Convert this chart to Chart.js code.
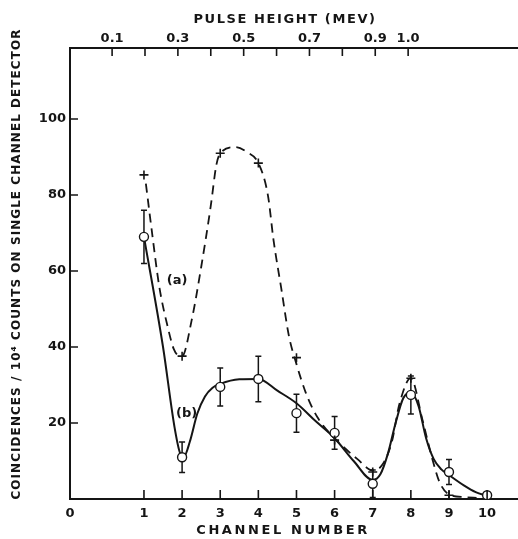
<!DOCTYPE html>
<html>
<head>
<meta charset="utf-8">
<script src="https://cdn.jsdelivr.net/npm/chart.js@4.4.0/dist/chart.umd.min.js"></script>
<style>
  html, body { margin: 0; padding: 0; background: #fff; }
</style>
</head>
<body>
<canvas id="chart" width="518" height="539"></canvas>
<script>
// measured points, curve (b): circles with error bars
const channels = [1, 2, 3, 4, 5, 6, 7, 8, 9, 10];
const countsB = [69, 11, 29.5, 31.6, 22.6, 17.4, 4, 27.4, 7.1, 1];
const errorsB = [7, 4, 5, 6, 5, 4.3, 3.6, 5, 3.3, 0];

// measured points, curve (a): crosses
const channelsA = [1, 2, 3, 4, 5, 6, 7, 8, 9];
const countsA = [85.3, 37.6, 91, 88.4, 37.2, 15.5, 7.1, 31.8, 1];

// hand drawn fit through (a), dashed
const fitAx = [1.05, 1.2, 1.4, 1.63, 1.78, 1.9, 2, 2.25, 2.5, 2.75, 2.9, 3, 3.4, 3.7, 4, 4.25, 4.4, 4.6, 4.8, 5, 5.25, 5.55, 5.9, 6.2, 6.6, 7, 7.25, 7.5, 7.7, 8, 8.3, 8.55, 8.75, 9, 9.4, 9.75];
const fitAy = [83, 71, 56, 45, 39.5, 37.8, 37.6, 47, 61, 77, 88, 91, 92.6, 91.3, 88.4, 80, 68, 55.5, 43, 35.5, 27.8, 21.5, 17, 14, 10.5, 7.5, 9, 15, 25, 31.8, 21, 11, 4.5, 1.2, 0.5, 0.3];

// hand drawn fit through (b), solid
const fitBx = [1, 1.5, 1.8, 1.95, 2.05, 2.2, 2.4, 2.6, 2.8, 3, 3.5, 4, 4.5, 5, 5.5, 6, 6.5, 7, 7.2, 7.4, 7.6, 7.8, 8, 8.2, 8.4, 8.6, 8.8, 9, 9.4, 9.7, 10];
const fitBy = [69, 40, 19, 12, 11.2, 15, 22.5, 27, 29.3, 30.3, 31.5, 31.6, 28.5, 25.2, 20.5, 16, 10, 5, 6.5, 12, 20, 26.5, 28, 24.5, 16, 10.5, 7.8, 6.3, 3.5, 1.8, 0.8];

// axes
const yTicks = [20, 40, 60, 80, 100];
const pulseTicks = [0.1, 0.2, 0.3, 0.4, 0.5, 0.6, 0.7, 0.8, 0.9, 1.0];
const pulseLabels = ['0.1', '', '0.3', '', '0.5', '', '0.7', '', '0.9', '1.0'];

const X_MIN = -0.94, X_MAX = 10.81;
const E_MIN = -0.028, E_MAX = 1.334;
const Y_MAX = 118.7;
const INK = '#151515';
const tickFont = { family: 'DejaVu Sans', weight: 'bold', size: 13 };

function pts(xs, ys) {
  return xs.map((x, i) => ({ x: x, y: ys[i] }));
}

const insideTicks = {
  id: 'insideTicks',
  afterDraw(chart) {
    const ctx = chart.ctx;
    const a = chart.chartArea;
    const xs = chart.scales.x, x2 = chart.scales.x2, ys = chart.scales.y;
    ctx.save();
    ctx.strokeStyle = INK;
    ctx.lineWidth = 1.6;
    ctx.beginPath();
    channels.forEach((c) => {
      const px = xs.getPixelForValue(c);
      ctx.moveTo(px, a.bottom);
      ctx.lineTo(px, a.bottom - 9);
    });
    pulseTicks.forEach((e) => {
      const px = x2.getPixelForValue(e);
      ctx.moveTo(px, a.top);
      ctx.lineTo(px, a.top + 8);
    });
    yTicks.forEach((v) => {
      const py = ys.getPixelForValue(v);
      ctx.moveTo(a.left, py);
      ctx.lineTo(a.left + 8, py);
    });
    ctx.stroke();
    ctx.restore();
  },
};

const errorBars = {
  id: 'errorBars',
  beforeDatasetsDraw(chart) {
    const ctx = chart.ctx;
    const xs = chart.scales.x, ys = chart.scales.y;
    ctx.save();
    ctx.strokeStyle = INK;
    ctx.lineWidth = 1.5;
    ctx.beginPath();
    channels.forEach((c, i) => {
      if (!errorsB[i]) return;
      const px = xs.getPixelForValue(c);
      const top = ys.getPixelForValue(countsB[i] + errorsB[i]);
      const bot = ys.getPixelForValue(countsB[i] - errorsB[i]);
      ctx.moveTo(px, top); ctx.lineTo(px, bot);
      ctx.moveTo(px - 3, top); ctx.lineTo(px + 3, top);
      ctx.moveTo(px - 3, bot); ctx.lineTo(px + 3, bot);
    });
    ctx.stroke();
    ctx.restore();
  },
};

const textLayer = {
  id: 'textLayer',
  afterDraw(chart) {
    const ctx = chart.ctx;
    const xs = chart.scales.x, ys = chart.scales.y;
    ctx.save();
    ctx.fillStyle = INK;
    ctx.textAlign = 'center';
    ctx.textBaseline = 'middle';

    // curve labels
    ctx.font = 'bold 13px "DejaVu Sans"';
    ctx.fillText('(a)', xs.getPixelForValue(1.87), ys.getPixelForValue(57.6));
    ctx.fillText('(b)', xs.getPixelForValue(2.12), ys.getPixelForValue(22.4));

    // axis titles
    ctx.font = 'bold 13px "DejaVu Sans"';
    ctx.letterSpacing = '1.6px';
    ctx.fillText('PULSE HEIGHT (MEV)', 285, 20);
    ctx.font = 'bold 13px "DejaVu Sans"';
    ctx.letterSpacing = '2.6px';
    ctx.fillText('CHANNEL NUMBER', 283, 531);

    const yTitle = 'COINCIDENCES / 10\u2074 COUNTS ON SINGLE CHANNEL DETECTOR';
    ctx.font = 'bold 12px "DejaVu Sans"';
    ctx.letterSpacing = '0px';
    const w = ctx.measureText(yTitle).width;
    const sp = Math.max(0, (470 - w) / (yTitle.length - 1));
    ctx.letterSpacing = sp.toFixed(2) + 'px';
    ctx.translate(17, 264);
    ctx.rotate(-Math.PI / 2);
    ctx.fillText(yTitle, 0, 0);
    ctx.restore();
  },
};

new Chart(document.getElementById('chart'), {
  type: 'line',
  data: {
    datasets: [
      {
        label: '(a)',
        data: pts(channelsA, countsA),
        showLine: false,
        pointStyle: 'cross',
        pointRadius: 4.5,
        pointBorderWidth: 1.6,
        borderColor: INK,
        order: 0,
      },
      {
        label: '(b)',
        data: pts(channels, countsB),
        showLine: false,
        pointStyle: 'circle',
        pointRadius: 4.5,
        pointBorderWidth: 1.4,
        pointBackgroundColor: '#fff',
        borderColor: INK,
        order: 0,
      },
      {
        label: 'fit a',
        data: pts(fitAx, fitAy),
        borderColor: INK,
        borderWidth: 1.8,
        borderDash: [9, 6],
        pointRadius: 0,
        cubicInterpolationMode: 'monotone',
        order: 2,
      },
      {
        label: 'fit b',
        data: pts(fitBx, fitBy),
        borderColor: INK,
        borderWidth: 2,
        pointRadius: 0,
        cubicInterpolationMode: 'monotone',
        order: 2,
      },
    ],
  },
  options: {
    responsive: false,
    animation: false,
    layout: { autoPadding: false, padding: 0 },
    plugins: { legend: { display: false }, tooltip: { enabled: false } },
    scales: {
      x: {
        type: 'linear',
        position: 'bottom',
        min: X_MIN,
        max: X_MAX,
        grid: { display: false, drawTicks: false },
        border: { display: true, color: INK, width: 2 },
        afterBuildTicks: (s) => {
          s.ticks = [X_MIN].concat(channels).map((v) => ({ value: v }));
        },
        afterFit: (s) => { s.height = 40; },
        ticks: {
          autoSkip: false,
          maxRotation: 0,
          padding: 7,
          color: INK,
          font: tickFont,
          callback: (v) => (v === X_MIN ? '0' : String(v)),
        },
      },
      x2: {
        type: 'linear',
        axis: 'x',
        position: 'top',
        min: E_MIN,
        max: E_MAX,
        grid: { display: false, drawTicks: false },
        border: { display: true, color: INK, width: 2 },
        afterBuildTicks: (s) => {
          s.ticks = pulseTicks.map((v) => ({ value: v }));
        },
        afterFit: (s) => { s.height = 48; },
        ticks: {
          autoSkip: false,
          maxRotation: 0,
          padding: 2,
          color: INK,
          font: tickFont,
          callback: (v, i) => pulseLabels[i],
        },
      },
      y: {
        type: 'linear',
        min: 0,
        max: Y_MAX,
        grid: { display: false, drawTicks: false },
        border: { display: true, color: INK, width: 2 },
        afterBuildTicks: (s) => {
          s.ticks = yTicks.map((v) => ({ value: v }));
        },
        afterFit: (s) => { s.width = 70; },
        ticks: {
          padding: 4,
          color: INK,
          font: tickFont,
        },
      },
    },
  },
  plugins: [errorBars, insideTicks, textLayer],
});
</script>
</body>
</html>
